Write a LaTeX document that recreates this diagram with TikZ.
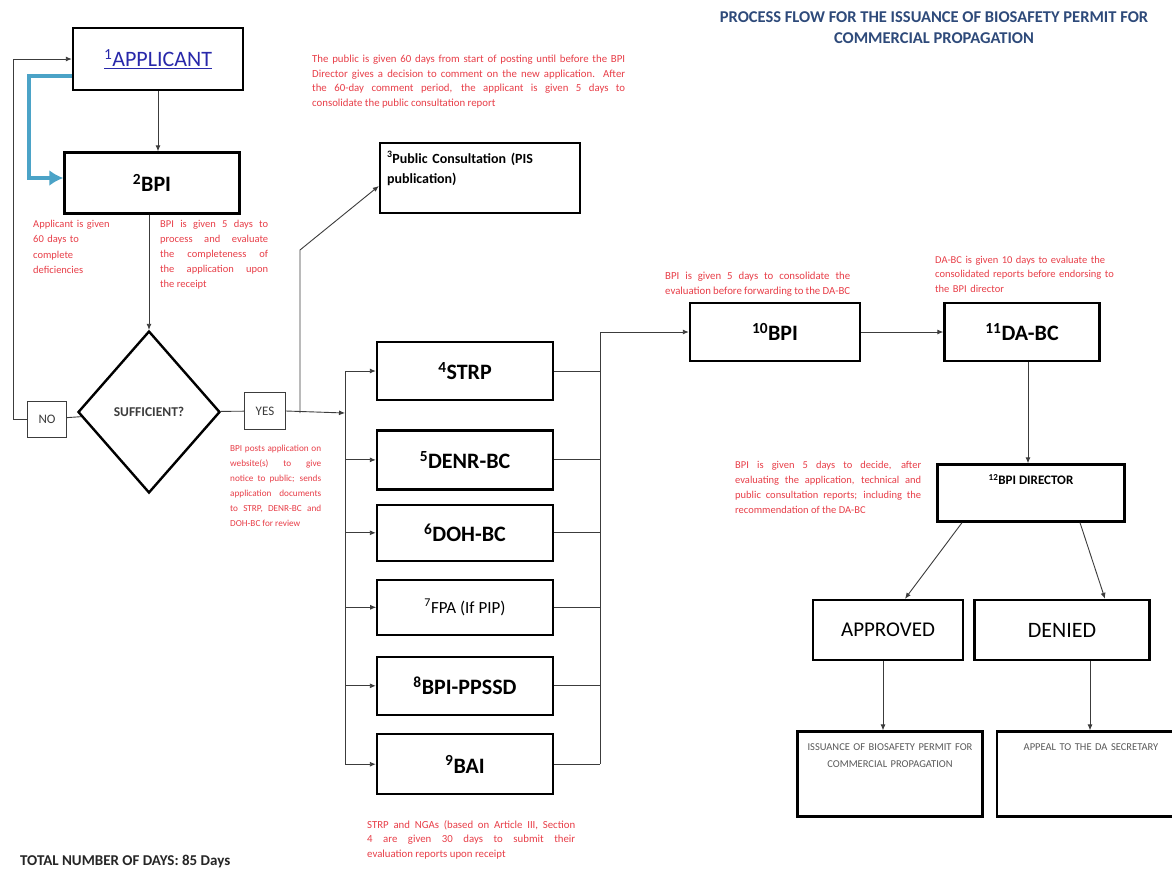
\documentclass[tikz,border=0pt]{standalone}
\usepackage{fontspec}
\setmainfont{Carlito}
\usetikzlibrary{positioning,shapes.geometric,arrows.meta}

\definecolor{notered}{RGB}{232,62,72}
\definecolor{appblue}{RGB}{40,40,170}
\definecolor{titleblue}{RGB}{46,74,122}
\definecolor{flowblue}{RGB}{75,163,199}
\definecolor{linegray}{RGB}{60,60,60}

\begin{document}
\begin{tikzpicture}[x=1pt,y=-1pt,
    box/.style={draw, line width=2.4pt, minimum width=176pt, minimum height=58pt, inner sep=2pt,
        font=\bfseries\fontsize{22}{26}\selectfont},
    endbox/.style={draw, line width=2.2pt, minimum height=85pt, inner sep=2pt, text width=178pt,
        align=center, text height=17pt, text depth=64pt, text=black!65,
        font=\fontsize{10.5}{17}\selectfont},
    tag/.style={draw=linegray, line width=0.8pt, minimum width=39pt, minimum height=36pt, inner sep=1pt,
        text=linegray, font=\fontsize{13}{15}\selectfont},
    note/.style={text=notered, align=justify, inner sep=0pt, font=\fontsize{10.8}{14.5}\selectfont},
    arr/.style={draw=linegray, line width=0.9pt, -{Latex[length=6pt,width=5pt]}},
    link/.style={draw=linegray, line width=0.9pt}]

\fill[white] (0,0) rectangle (1172,873);
\useasboundingbox (0,0) rectangle (1172,873);

% title and total
\node[align=center, text=titleblue, font=\bfseries\fontsize{16.5}{21}\selectfont] (title) at (934,28)
    {PROCESS FLOW FOR THE ISSUANCE OF BIOSAFETY PERMIT FOR\\COMMERCIAL PROPAGATION};
\node[anchor=west, inner sep=0pt, text=black!85, font=\bfseries\fontsize{15}{17}\selectfont] (total) at (20,861)
    {TOTAL NUMBER OF DAYS: 85 Days};

% left column
\node[box, minimum width=170pt, minimum height=62pt, font=\fontsize{22}{26}\selectfont] (app) at (158,59)
    {\textcolor{appblue}{\underline{\textsuperscript{1}APPLICANT}}};
\node[box, minimum width=175pt, minimum height=61pt] (bpi2) at (152,183) {\textsuperscript{2}BPI};
\node[draw, diamond, line width=2.4pt, minimum width=142pt, minimum height=162pt, inner sep=0pt,
    text=linegray, font=\bfseries\fontsize{13.5}{15}\selectfont] (suff) at (149,412) {SUFFICIENT?};
\node[tag] (no) at (47,419) {NO};
\node[tag, minimum width=41pt, minimum height=37pt] (yes) at (265,411) {YES};

\node[box, minimum width=200pt, minimum height=70pt, text width=186pt, align=left,
    text height=18pt, text depth=48pt, font=\bfseries\fontsize{14}{20}\selectfont] (pub) at (480,178)
    {\textsuperscript{3}Public Consultation (PIS\\publication)};

% agencies
\node[box] (strp) at (465,371) {\textsuperscript{4}STRP};
\node[box, minimum height=59pt, below=28pt of strp] (denr) {\textsuperscript{5}DENR-BC};
\node[box, minimum height=56pt, below=13pt of denr] (doh) {\textsuperscript{6}DOH-BC};
\node[box, minimum height=55pt, line width=1.6pt, font=\fontsize{17}{20}\selectfont,
    below=17pt of doh] (fpa) {\textsuperscript{7}FPA (If PIP)};
\node[box, below=20pt of fpa] (ppssd) {\textsuperscript{8}BPI-PPSSD};
\node[box, minimum height=60pt, below=17pt of ppssd] (bai) {\textsuperscript{9}BAI};

% right part
\node[box, minimum width=170pt] (bpi10) at (775,332) {\textsuperscript{10}BPI};
\node[box, minimum width=155pt] (dabc) at (1022,332) {\textsuperscript{11}DA-BC};
\node[box, minimum width=187pt, minimum height=57pt, font=\bfseries\fontsize{13}{16}\selectfont,
    text height=18pt, text depth=35pt] (dir) at (1031,493) {\textsuperscript{12}BPI DIRECTOR};
\node[box, minimum width=150pt, minimum height=60pt, font=\fontsize{21}{24}\selectfont] (appr) at (888,630) {APPROVED};
\node[box, minimum width=175pt, minimum height=60pt, font=\fontsize{22}{24}\selectfont] (den) at (1062,630) {DENIED};
\node[endbox, minimum width=185pt] (iss) at (890,774)
    {ISSUANCE OF BIOSAFETY PERMIT FOR\\COMMERCIAL PROPAGATION};
\node[endbox, minimum width=188pt] (appeal) at (1091,774) {APPEAL TO THE DA SECRETARY};

% notes
\node[note, anchor=north west, text width=313pt] (pubnote) at (312,55)
    {The public is given 60 days from start of posting until before the BPI\linebreak
     Director gives a decision to comment on the new application. After\linebreak
     the 60-day comment period, the applicant is given 5 days to\linebreak
     consolidate the public consultation report};
\node[note, align=left, anchor=north west, text width=84pt, font=\fontsize{10.5}{15.5}\selectfont] (defnote) at (33,220)
    {Applicant is given\\60 days to\\complete\\deficiencies};
\node[note, anchor=north west, text width=108pt, font=\fontsize{10.5}{15}\selectfont] (evalnote) at (160,220)
    {BPI is given 5 days to\linebreak
     process and evaluate\linebreak
     the completeness of\linebreak
     the application upon\linebreak
     the receipt};
\node[note, anchor=north west, text width=91pt, font=\fontsize{9.2}{15}\selectfont] (postnote) at (230,445)
    {BPI posts application on\linebreak
     website(s) to give\linebreak
     notice to public; sends\linebreak
     application documents\linebreak
     to STRP, DENR-BC and\linebreak
     DOH-BC for review};
\node[note, anchor=north west, text width=185pt] (consnote) at (665,272)
    {BPI is given 5 days to consolidate the\linebreak
     evaluation before forwarding to the DA-BC};
\node[note, align=left, anchor=north west, text width=200pt, font=\fontsize{10.5}{14.5}\selectfont] (dabcnote) at (935,256)
    {DA-BC is given 10 days to evaluate the\\
     consolidated reports before endorsing to\\
     the BPI director};
\node[note, anchor=north west, text width=186pt, font=\fontsize{10.5}{15}\selectfont] (decnote) at (735,461)
    {BPI is given 5 days to decide, after\linebreak
     evaluating the application, technical and\linebreak
     public consultation reports; including the\linebreak
     recommendation of the DA-BC};
\node[note, anchor=north west, text width=208pt] (revnote) at (367,820)
    {STRP and NGAs (based on Article III, Section\linebreak
     4 are given 30 days to submit their\linebreak
     evaluation reports upon receipt};

% connectors
\coordinate (split) at (300,413);
\coordinate (bend) at (300,250);
\coordinate (bus) at (345,413);
\coordinate (join) at (600,332);

\draw[arr] (app.south) -- (app.south |- bpi2.north);
\draw[draw=flowblue, line width=4.5pt, -{Latex[length=14pt,width=16pt]}]
    ([yshift=-17pt]app.west) -- ++(-43,0) |- ([yshift=5pt]bpi2.west);
\draw[arr] (suff.north |- bpi2.south) -- (suff.north);
\draw[arr] (no.west) -- ++(-14,0) |- (app.west);
\draw[link] (no) -- (suff);
\draw[link] (suff) -- (yes);
\draw[arr] (yes.east) -- (bus);
\draw[arr] (split) -- (bend) -- ([yshift=-8pt]pub.west);

\draw[link] (bus |- strp) -- (bus |- bai);
\draw[arr] (bus |- strp) -- (strp);
\draw[arr] (bus |- denr) -- (denr);
\draw[arr] (bus |- doh) -- (doh);
\draw[arr] (bus |- fpa) -- (fpa);
\draw[arr] (bus |- ppssd) -- (ppssd);
\draw[arr] (bus |- bai) -- (bai);

\draw[link] (strp.east) -- (join |- strp);
\draw[link] (denr.east) -- (join |- denr);
\draw[link] (doh.east) -- (join |- doh);
\draw[link] (fpa.east) -- (join |- fpa);
\draw[link] (ppssd.east) -- (join |- ppssd);
\draw[link] (bai.east) -- (join |- bai);
\draw[link] (join) -- (join |- bai);
\draw[arr] (join) -- (bpi10);

\draw[arr] (bpi10) -- (dabc);
\draw[arr] ([xshift=6pt]dabc.south) -- ([xshift=6pt]dabc.south |- dir.north);
\draw[arr] ([xshift=-69pt]dir.south) -- ([xshift=17pt]appr.north);
\draw[arr] ([xshift=49pt]dir.south) -- ([xshift=43pt]den.north);
\draw[arr] ([xshift=-5pt]appr.south) -- ([xshift=-5pt]appr.south |- iss.north);
\draw[arr] ([xshift=28pt]den.south) -- ([xshift=28pt]den.south |- appeal.north);

\end{tikzpicture}
\end{document}
